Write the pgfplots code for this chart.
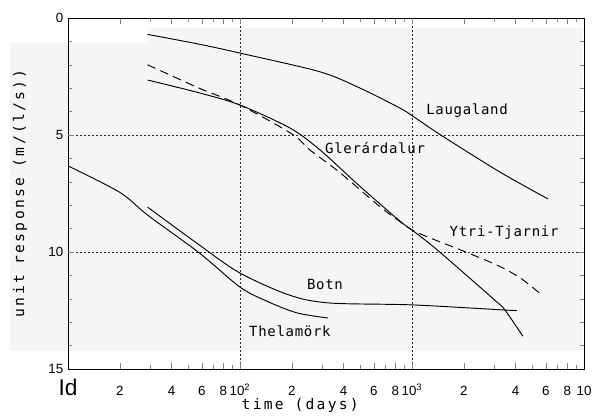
\documentclass[border=0pt]{standalone}
\usepackage{fontspec}
\setmainfont{Liberation Sans}
\newfontfamily\plotter[LetterSpace=5]{DejaVu Sans Mono}
\newfontfamily\plotterwide[LetterSpace=15]{DejaVu Sans Mono}
\usepackage{pgfplots}
\pgfplotsset{compat=1.18}
\definecolor{scan}{HTML}{F5F5F5}

\begin{document}
\begin{tikzpicture}
\useasboundingbox (0,0) rectangle (444pt,312pt);
% light grey of the scanned page
\fill[scan] (7.5pt,48.75pt) -- (437.25pt,48.75pt) -- (437.25pt,291pt) -- (111pt,291pt)
  -- (111pt,279.75pt) -- (7.5pt,279.75pt) -- cycle;
\begin{axis}[
  at={(51pt,35.25pt)}, anchor=south west,
  scale only axis, width=387pt, height=263.25pt,
  xmode=log, xmin=10, xmax=10000,
  ymin=0, ymax=15, y dir=reverse,
  ytick={0,5,10,15}, minor ytick={1,2,3,4,6,7,8,9,11,12,13,14},
  xtick={10,20,40,60,80,100,200,400,600,800,1000,2000,4000,6000,8000,10000},
  xticklabels={{\fontsize{17}{17}\selectfont Id},2,4,6,8,10\textsuperscript{2},2,4,6,8,10\textsuperscript{3},2,4,6,8,10},
  minor xtick={30,50,70,90,300,500,700,900,3000,5000,7000,9000},
  extra x ticks={100,1000}, extra x tick labels={}, extra x tick style={grid=major},
  extra y ticks={5,10}, extra y tick labels={}, extra y tick style={grid=major},
  major grid style={dash pattern=on 1.2pt off 1.8pt, black!85, line width=0.6pt},
  /pgf/number format/assume math mode=true,
  ticklabel style={font=\fontsize{10}{12}\selectfont},
  xticklabel style={anchor=base, yshift=-19.5pt},
  axis line style={line width=0.6pt},
  xlabel={time (days)},
  ylabel={unit response (m/(l/s))},
  label style={font=\plotterwide\fontsize{11}{13}\selectfont},
  xlabel style={at={(axis description cs:0.45,-0.103)}, anchor=center},
  ylabel style={at={(axis description cs:-0.093,0.5)}, anchor=center},
  cycle list={{black}},
  every axis plot/.append style={line width=0.7pt, smooth, no markers},
]
% Laugaland
\addplot coordinates {(29,0.70) (58,1.12) (100,1.5) (292,2.3) (500,3.0) (851,3.85)
  (1000,4.17) (1455,4.98) (3240,6.58) (6170,7.73)};
% Glerardalur
\addplot coordinates {(29,2.65) (58,3.2) (100,3.72) (195,4.7) (292,5.64) (499,7.2)
  (851,8.68) (1000,9.06) (1396,9.9) (3020,12.05) (3470,12.48) (4410,13.6)};
% Ytri-Tjarnir
\addplot[dash pattern=on 6.5pt off 4pt] coordinates {(29,2.0) (58,3.0) (100,3.72) (200,4.95)
  (255,5.64) (380,6.6) (650,8.06) (851,8.7) (1000,9.06) (1274,9.4) (1900,9.9)
  (3120,10.56) (4245,11.1) (5500,11.75)};
% Botn
\addplot coordinates {(29,8.08) (58,9.7) (100,10.9) (195,11.85) (333,12.18) (1000,12.26)
  (3470,12.48) (4070,12.5)};
% Thelamork
\addplot coordinates {(10,6.32) (20,7.45) (29,8.42) (58,10.04) (100,11.5) (143,12.1)
  (214,12.6) (324,12.82)};
\begin{scope}[every node/.style={font=\plotter\fontsize{10.5}{12}\selectfont}]
\node at (axis cs:2090,3.97) {Laugaland};
\node at (axis cs:610,5.56) {Glerárdalur};
\node at (axis cs:3430,9.19) {Ytri-Tjarnir};
\node at (axis cs:312,11.4) {Botn};
\node at (axis cs:195,13.4) {Thelamörk};
\end{scope}
\end{axis}
\end{tikzpicture}
\end{document}
